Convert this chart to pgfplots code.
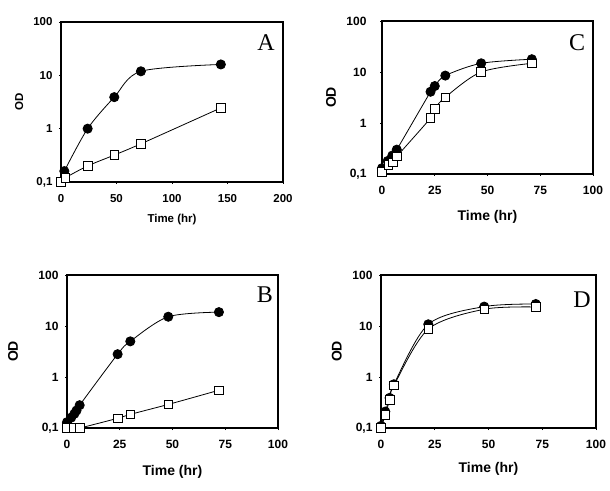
\documentclass[border=0pt]{standalone}
\usepackage{pgfplots}
\pgfplotsset{compat=1.18}
\usepackage{fontspec}
\setmainfont{Liberation Sans}
\newfontfamily\letterfont{Liberation Serif}

\pgfplotsset{
  odpanel/.style={
    ymin=0.1, ymax=100,
    scale only axis, anchor=south west,
    ytick={0.1,1,10,100}, yticklabels={{0,1},1,10,100},
    yminorticks=false,
    tick align=outside, major tick length=2pt,
    xtick pos=bottom, ytick pos=left,
    axis line style={line width=1.2pt},
    tick style={line width=0.6pt, black},
    tick label style={font=\fontsize{12}{13}\selectfont\bfseries},
    xticklabel style={yshift=-7pt},
    yticklabel style={xshift=-3pt},
    clip=false,
    xlabel={Time (hr)}, ylabel={OD},
    label style={font=\fontsize{14}{15}\selectfont\bfseries},
  },
}
\tikzset{
  circseries/.style={smooth, black, line width=0.8pt, mark=*, mark size=4.6pt,
    mark options={fill=black}},
  sqseries/.style={smooth, black, line width=0.8pt, mark=square*, mark size=4.3pt,
    mark options={fill=white}},
  panelletter/.style={font=\letterfont\fontsize{24}{26}\selectfont, anchor=center},
}

\begin{document}
\begin{tikzpicture}
\path (0,0) rectangle (610pt,490pt);

% A
\begin{semilogyaxis}[odpanel, at={(61pt,308pt)}, width=222pt, height=160pt,
  xmin=0, xmax=200, xtick={0,50,100,150,200},
  /pgf/number format/assume math mode=true,
  tick label style={font=\fontsize{11.5}{12}\selectfont\bfseries},
  label style={font=\fontsize{11.5}{12}\selectfont\bfseries},
  xlabel style={at={(axis description cs:0.5,-0.2375)}, anchor=center},
  ylabel style={at={(axis description cs:-0.189,0.5)}, anchor=center}]
\addplot[circseries] coordinates {
  (3,0.16) (24,1.0) (48,3.9) (72,11.9) (144,16)
};
\addplot[sqseries] coordinates {
  (0,0.1) (4,0.12) (24,0.2) (48,0.32) (72,0.52) (144,2.45)
};
\node[panelletter] at ([xshift=-17pt,yshift=-21pt]rel axis cs:1,1) {A};
\end{semilogyaxis}

% C
\begin{semilogyaxis}[odpanel, at={(382pt,316pt)}, width=211pt, height=153pt,
  xmin=0, xmax=100, xtick={0,25,50,75,100},
  /pgf/number format/assume math mode=true,
  yticklabel style={xshift=-7pt},
  xlabel style={at={(axis description cs:0.5,-0.281)}, anchor=center},
  ylabel style={at={(axis description cs:-0.242,0.5)}, anchor=center}]
\addplot[circseries] coordinates {
  (0,0.13) (2.7,0.18) (4.9,0.23) (7,0.3) (23,4.1) (25,5.3) (30,8.5) (47,14.8) (71,17.8)
};
\addplot[sqseries] coordinates {
  (0,0.11) (3,0.15) (5.3,0.17) (7,0.22) (23,1.25) (25,1.9) (30,3.2) (47,10) (71,14.8)
};
\node[panelletter] at ([xshift=-16pt,yshift=-22pt]rel axis cs:1,1) {C};
\end{semilogyaxis}

% B
\begin{semilogyaxis}[odpanel, at={(67pt,62pt)}, width=211pt, height=153pt,
  xmin=0, xmax=100, xtick={0,25,50,75,100},
  /pgf/number format/assume math mode=true,
  xlabel style={at={(axis description cs:0.5,-0.288)}, anchor=center},
  ylabel style={at={(axis description cs:-0.256,0.5)}, anchor=center}]
\addplot[circseries] coordinates {
  (0,0.13) (2,0.16) (3.5,0.19) (4.5,0.22) (6,0.28) (24,2.8) (30,5.0) (48,15.2) (72,18.7)
};
\addplot[sqseries] coordinates {
  (0,0.1) (3,0.1) (6,0.1) (24,0.155) (30,0.185) (48,0.29) (72,0.55)
};
\node[panelletter] at ([xshift=-13pt,yshift=-20pt]rel axis cs:1,1) {B};
\end{semilogyaxis}

% D
\begin{semilogyaxis}[odpanel, at={(381pt,62pt)}, width=215pt, height=153pt,
  xmin=0, xmax=100, xtick={0,25,50,75,100},
  /pgf/number format/assume math mode=true,
  xlabel style={at={(axis description cs:0.5,-0.268)}, anchor=center},
  ylabel style={at={(axis description cs:-0.205,0.5)}, anchor=center}]
\addplot[circseries] coordinates {
  (0,0.11) (2,0.21) (4,0.39) (6,0.72) (22,10.8) (48,24) (72,27)
};
\addplot[sqseries] coordinates {
  (0,0.1) (2,0.18) (4,0.36) (6,0.68) (22,8.7) (48,21.3) (72,23.6)
};
\node[panelletter] at ([xshift=-14pt,yshift=-25pt]rel axis cs:1,1) {D};
\end{semilogyaxis}
\end{tikzpicture}
\end{document}
